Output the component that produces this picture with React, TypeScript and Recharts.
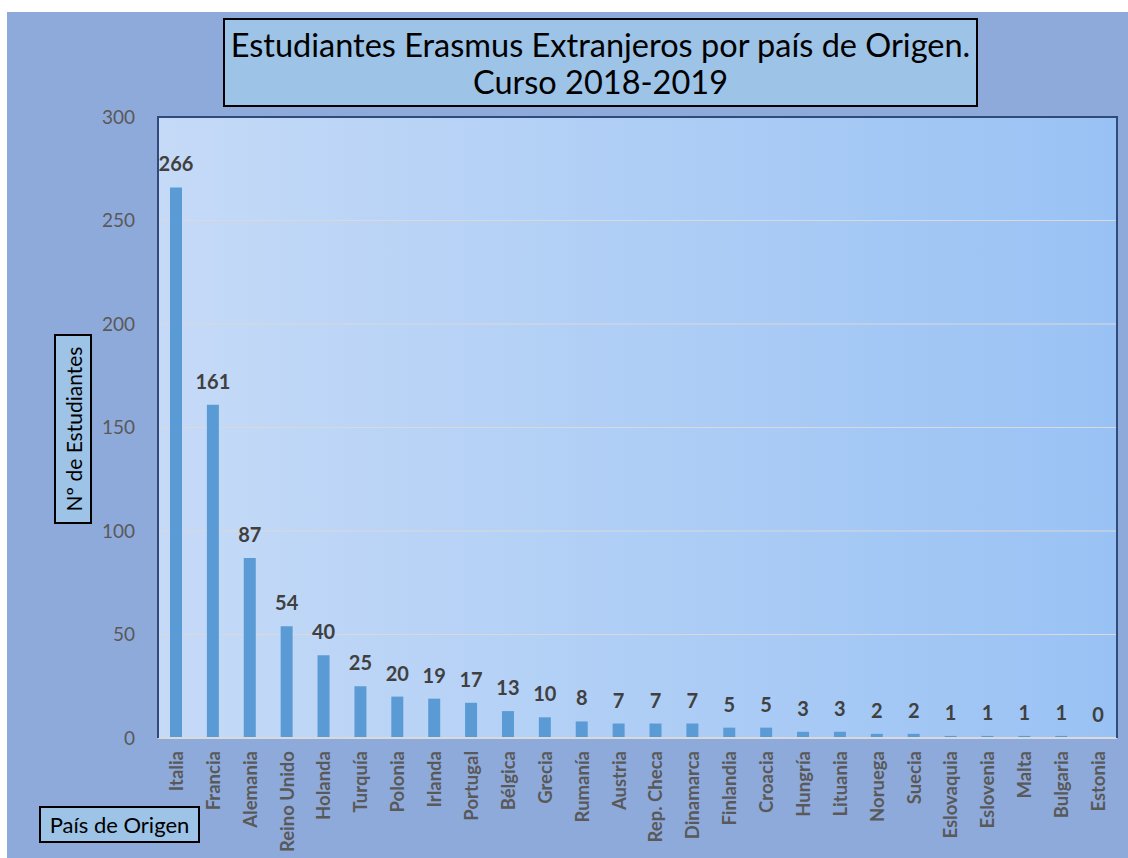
import React from "react";
import { BarChart, Bar, XAxis, YAxis, CartesianGrid, LabelList } from "recharts";

const countries = [
  "Italia", "Francia", "Alemania", "Reino Unido", "Holanda", "Turquía", "Polonia", "Irlanda",
  "Portugal", "Bélgica", "Grecia", "Rumanía", "Austria", "Rep. Checa", "Dinamarca", "Finlandia",
  "Croacia", "Hungría", "Lituania", "Noruega", "Suecia", "Eslovaquia", "Eslovenia", "Malta",
  "Bulgaria", "Estonia",
];
const students = [266, 161, 87, 54, 40, 25, 20, 19, 17, 13, 10, 8, 7, 7, 7, 5, 5, 3, 3, 2, 2, 1, 1, 1, 1, 0];
const yTicks = [0, 50, 100, 150, 200, 250, 300];

const titleLines = ["Estudiantes Erasmus Extranjeros por país de Origen.", "Curso 2018-2019"];
const yLabel = "Nº de Estudiantes";
const xLabel = "País de Origen";

const data = countries.map((c, i) => ({ country: c, value: students[i] }));

const FONT = "Lato, 'Open Sans', sans-serif";

const W = 1121;
const H = 846;
const PLOT = { left: 151, top: 105, right: 1110, bottom: 726 };

const XTick = (props: any) => {
  const { x, y, payload } = props;
  const ty = y + 11;
  return (
    <text
      x={x}
      y={ty}
      transform={`rotate(-90, ${x}, ${ty})`}
      textAnchor="end"
      dy="0.35em"
      fill="#595959"
      fontSize={18.5}
      fontWeight={700}
      fontFamily={FONT}
    >
      {payload.value}
    </text>
  );
};

const boxStyle: React.CSSProperties = {
  position: "absolute",
  background: "#9DC3E6",
  border: "2px solid #000",
  boxSizing: "border-box",
  color: "#000",
  fontFamily: FONT,
};

export default function App() {
  return (
    <div
      style={{
        position: "absolute",
        left: 7,
        top: 12,
        width: W,
        height: H,
        background: "#8EAADB",
        overflow: "hidden",
      }}
    >
      <div
        style={{
          position: "absolute",
          left: PLOT.left,
          top: PLOT.top,
          width: PLOT.right - PLOT.left,
          height: PLOT.bottom - PLOT.top,
          background: "linear-gradient(to right, #C5DAF7, #99C2F4)",
        }}
      />
      <div style={{ position: "absolute", left: 0, top: 0 }}>
        <BarChart width={W} height={H} data={data} margin={{ top: PLOT.top, right: W - PLOT.right, bottom: 0, left: 0 }}>
          <CartesianGrid vertical={false} stroke="#D9D9D9" strokeWidth={1} />
          <XAxis
            dataKey="country"
            height={H - PLOT.bottom}
            interval={0}
            tickLine={false}
            tickSize={0}
            axisLine={{ stroke: "#D9D9D9", strokeWidth: 2 }}
            tick={<XTick />}
          />
          <YAxis
            width={PLOT.left}
            domain={[0, 300]}
            ticks={yTicks}
            tickLine={false}
            tickSize={0}
            tickMargin={23}
            axisLine={false}
            tick={{ fill: "#595959", fontSize: 19, fontFamily: FONT }}
          />
          <Bar dataKey="value" fill="#5B9BD5" barSize={12} minPointSize={0.01} isAnimationActive={false}>
            <LabelList
              dataKey="value"
              position="top"
              offset={16}
              fill="#404040"
              fontSize={20}
              fontWeight={700}
              fontFamily={FONT}
            />
          </Bar>
        </BarChart>
      </div>
      <div
        style={{
          position: "absolute",
          left: PLOT.left - 1,
          top: PLOT.top - 1,
          width: PLOT.right - PLOT.left + 2,
          height: PLOT.bottom - PLOT.top + 1,
          borderTop: "2px solid #2F4B7C",
          borderLeft: "2px solid #2F4B7C",
          borderRight: "2px solid #2F4B7C",
          boxSizing: "border-box",
          pointerEvents: "none",
        }}
      />
      <div
        style={{
          ...boxStyle,
          left: 216,
          top: 6,
          width: 755,
          height: 89,
          fontSize: 32.5,
          lineHeight: "37px",
          textAlign: "center",
          paddingTop: 6,
          whiteSpace: "nowrap",
        }}
      >
        {titleLines.map((l) => (
          <div key={l}>{l}</div>
        ))}
      </div>
      <div style={{ ...boxStyle, left: 47, top: 322, width: 38, height: 190 }}>
        <div
          style={{
            position: "absolute",
            left: "50%",
            top: "50%",
            transform: "translate(-50%, -50%) rotate(-90deg)",
            whiteSpace: "nowrap",
            fontSize: 21,
          }}
        >
          {yLabel}
        </div>
      </div>
      <div
        style={{
          ...boxStyle,
          left: 32,
          top: 794,
          width: 161,
          height: 37,
          fontSize: 22,
          lineHeight: "33px",
          textAlign: "center",
          whiteSpace: "nowrap",
        }}
      >
        {xLabel}
      </div>
    </div>
  );
}
